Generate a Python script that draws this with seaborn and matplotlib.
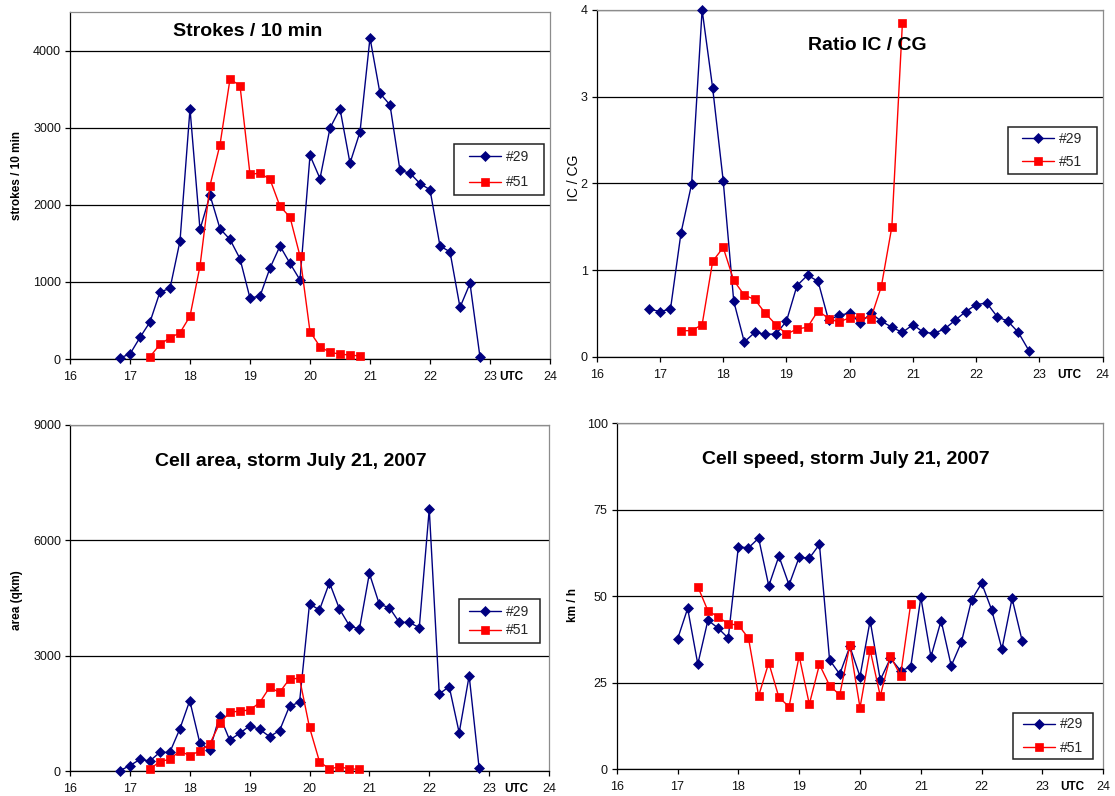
import matplotlib
matplotlib.use("Agg")
import matplotlib.pyplot as plt
import seaborn as sns
from matplotlib.patches import Rectangle

# ---------------------------------------------------------------- data
# Observation times (UTC, 10-minute steps)
times_29 = ["16:50", "17:00", "17:10", "17:20", "17:30", "17:40", "17:50",
            "18:00", "18:10", "18:20", "18:30", "18:40", "18:50",
            "19:00", "19:10", "19:20", "19:30", "19:40", "19:50",
            "20:00", "20:10", "20:20", "20:30", "20:40", "20:50",
            "21:00", "21:10", "21:20", "21:30", "21:40", "21:50",
            "22:00", "22:10", "22:20", "22:30", "22:40", "22:50"]
times_51 = ["17:20", "17:30", "17:40", "17:50",
            "18:00", "18:10", "18:20", "18:30", "18:40", "18:50",
            "19:00", "19:10", "19:20", "19:30", "19:40", "19:50",
            "20:00", "20:10", "20:20", "20:30", "20:40", "20:50"]
times_29_speed = ["17:00", "17:10", "17:20", "17:30", "17:40", "17:50",
                  "18:00", "18:10", "18:20", "18:30", "18:40", "18:50",
                  "19:00", "19:10", "19:20", "19:30", "19:40", "19:50",
                  "20:00", "20:10", "20:20", "20:30", "20:40", "20:50",
                  "21:00", "21:10", "21:20", "21:30", "21:40", "21:50",
                  "22:00", "22:10", "22:20", "22:30", "22:40"]

strokes_29 = [15, 65, 280, 480, 870, 915, 1530, 3245, 1680, 2125, 1690, 1550,
              1300, 790, 815, 1180, 1465, 1240, 1025, 2640, 2340, 2995, 3245,
              2540, 2945, 4165, 3445, 3295, 2445, 2410, 2275, 2195, 1465, 1390,
              670, 980, 25]
strokes_51 = [30, 190, 275, 340, 555, 1205, 2250, 2780, 3630, 3545, 2395, 2410,
              2330, 1980, 1840, 1335, 355, 160, 85, 65, 50, 40]

ratio_29 = [0.55, 0.52, 0.55, 1.43, 1.99, 4.00, 3.10, 2.03, 0.64, 0.17, 0.28,
            0.26, 0.26, 0.41, 0.82, 0.94, 0.87, 0.42, 0.48, 0.50, 0.39, 0.50,
            0.41, 0.34, 0.28, 0.37, 0.28, 0.27, 0.32, 0.42, 0.52, 0.60, 0.62,
            0.46, 0.41, 0.28, 0.07]
ratio_51 = [0.30, 0.30, 0.37, 1.10, 1.26, 0.88, 0.71, 0.66, 0.50, 0.37, 0.26,
            0.32, 0.34, 0.53, 0.44, 0.40, 0.45, 0.46, 0.44, 0.81, 1.50, 3.85]

area_29 = [10, 140, 300, 260, 485, 485, 1090, 1830, 740, 545, 1440, 805, 980,
           1170, 1085, 895, 1050, 1690, 1785, 4345, 4190, 4900, 4215, 3780,
           3685, 5140, 4335, 4250, 3865, 3865, 3730, 6815, 2005, 2195, 995,
           2480, 70]
area_51 = [50, 245, 305, 520, 400, 520, 700, 1240, 1525, 1560, 1585, 1775,
           2175, 2045, 2395, 2410, 1135, 245, 50, 115, 50, 50]

speed_29 = [37.6, 46.5, 30.4, 43.1, 40.8, 37.9, 64.3, 64.0, 66.8, 53.0, 61.6,
            53.3, 61.3, 61.0, 65.0, 31.6, 27.5, 35.5, 26.8, 43.0, 25.8, 32.1,
            28.5, 29.5, 49.7, 32.5, 43.0, 29.9, 36.7, 48.9, 53.8, 46.0, 34.7,
            49.4, 37.1]
speed_51 = [52.8, 45.8, 44.1, 42.0, 41.7, 37.9, 21.2, 30.8, 20.8, 18.1, 32.7,
            18.8, 30.3, 24.2, 21.5, 35.9, 17.8, 34.5, 21.2, 32.7, 27.1, 47.8]

hour_ticks = [16, 17, 18, 19, 20, 21, 22, 23, 24]
series_labels = ["#29", "#51"]

# ---------------------------------------------------------------- style
sns.set_theme(style="white")
plt.rcParams["font.family"] = ["Liberation Sans", "DejaVu Sans"]

NAVY = "#000080"
RED = "#FF0000"
W, H = 1115, 796


def to_hours(times):
    return [int(t[:2]) + int(t[3:]) / 60.0 for t in times]


def fig_rect(left, top, right, bottom):
    return [left / W, 1 - bottom / H, (right - left) / W, (bottom - top) / H]


fig = plt.figure(figsize=(W / 100, H / 100), dpi=100)
fig.patch.set_facecolor("white")

panels = [
    dict(box=(70, 12, 550, 359), t29=times_29, y29=strokes_29, y51=strokes_51,
         ylim=(0, 4500), yticks=[0, 1000, 2000, 3000, 4000],
         title="Strokes / 10 min", title_xy=(248, 32),
         ylabel="strokes / 10 min", ylabel_xy=(17, 175), ylabel_kw=dict(fontsize=8.5, fontweight="bold"),
         legend_box=(454, 144, 544, 195), spacing=0.85, utc=23.36),
    dict(box=(596.7, 10, 1102.7, 356.7), t29=times_29, y29=ratio_29, y51=ratio_51,
         ylim=(0, 4), yticks=[0, 1, 2, 3, 4],
         title="Ratio IC / CG", title_xy=(867, 45),
         ylabel="IC / CG", ylabel_xy=(574, 178), ylabel_kw=dict(fontsize=10),
         legend_box=(1007.7, 126.7, 1096.7, 174), spacing=0.65, utc=23.48),
    dict(box=(70, 425, 549, 771), t29=times_29, y29=area_29, y51=area_51,
         ylim=(0, 9000), yticks=[0, 3000, 6000, 9000],
         title="Cell area, storm July 21, 2007", title_xy=(291, 461),
         ylabel="area (qkm)", ylabel_xy=(17, 600), ylabel_kw=dict(fontsize=8.5, fontweight="bold"),
         legend_box=(459, 599, 540, 643), spacing=0.35, utc=23.46),
    dict(box=(616.7, 423.3, 1103.3, 769.3), t29=times_29_speed, y29=speed_29, y51=speed_51,
         ylim=(0, 100), yticks=[0, 25, 50, 75, 100],
         title="Cell speed, storm July 21, 2007", title_xy=(845.5, 460),
         ylabel="km / h", ylabel_xy=(573, 605), ylabel_kw=dict(fontsize=8.5, fontweight="bold"),
         legend_box=(1012.7, 712.7, 1092.7, 759.3), spacing=0.65, utc=23.49),
]

for p in panels:
    ax = fig.add_axes(fig_rect(*p["box"]))
    ax.set_facecolor("white")

    sns.lineplot(x=to_hours(p["t29"]), y=p["y29"], ax=ax, color=NAVY,
                 linewidth=1.0, marker="D", markersize=4.8,
                 markeredgecolor=NAVY, markeredgewidth=0.5,
                 label=series_labels[0], zorder=3, clip_on=False)
    sns.lineplot(x=to_hours(times_51), y=p["y51"], ax=ax, color=RED,
                 linewidth=1.0, marker="s", markersize=5.3,
                 markeredgecolor=RED, markeredgewidth=0.5,
                 label=series_labels[1], zorder=4, clip_on=False)

    ax.set_xlim(16, 24)
    ax.set_xticks(hour_ticks)
    ax.set_xticklabels([str(h) for h in hour_ticks])
    ax.set_ylim(*p["ylim"])
    ax.set_yticks(p["yticks"])
    ax.set_yticklabels([str(v) for v in p["yticks"]])
    ax.set_xlabel("")
    ax.set_ylabel("")

    ax.grid(axis="y", color="black", linewidth=0.9)
    ax.grid(axis="x", visible=False)
    ax.set_axisbelow(True)
    for side in ("top", "right"):
        ax.spines[side].set_color("#8c8c8c")
        ax.spines[side].set_linewidth(0.9)
    for side in ("left", "bottom"):
        ax.spines[side].set_color("black")
        ax.spines[side].set_linewidth(0.9)

    ax.tick_params(axis="both", which="major", bottom=True, left=True,
                   direction="out", length=3.5, width=0.9, color="black",
                   labelsize=9, labelcolor="#111111")
    ax.tick_params(axis="x", pad=5)
    ax.tick_params(axis="y", pad=3)

    ax.annotate("UTC", xy=(p["utc"], 0), xycoords=("data", "axes fraction"),
                xytext=(0, -8.5), textcoords="offset points", ha="center",
                va="top", fontsize=8.5, fontweight="bold", color="black")

    # title and y-axis label
    tx, ty = p["title_xy"]
    fig.text(tx / W, 1 - ty / H, p["title"], ha="center", va="center",
             fontsize=14, fontweight="bold", color="black")
    lx, ly = p["ylabel_xy"]
    fig.text(lx / W, 1 - ly / H, p["ylabel"], ha="center", va="center",
             rotation=90, color="black", **p["ylabel_kw"])

    # legend with a square frame
    handles, labels = ax.get_legend_handles_labels()
    if ax.get_legend() is not None:
        ax.get_legend().remove()
    x0, y0, x1, y1 = p["legend_box"]
    frame = Rectangle((x0 / W, 1 - y1 / H), (x1 - x0) / W, (y1 - y0) / H,
                      transform=fig.transFigure, facecolor="white",
                      edgecolor="#222222", linewidth=1.1, zorder=6,
                      clip_on=False)
    ax.add_patch(frame)
    leg = ax.legend(handles, labels, loc="center",
                    bbox_to_anchor=((x0 + x1) / 2 / W, 1 - (y0 + y1) / 2 / H),
                    bbox_transform=fig.transFigure, frameon=False,
                    fontsize=10, handlelength=2.3, handletextpad=0.35,
                    labelspacing=p["spacing"], borderpad=0)
    leg.set_zorder(7)

fig.savefig("out.png", dpi=100, facecolor="white")
